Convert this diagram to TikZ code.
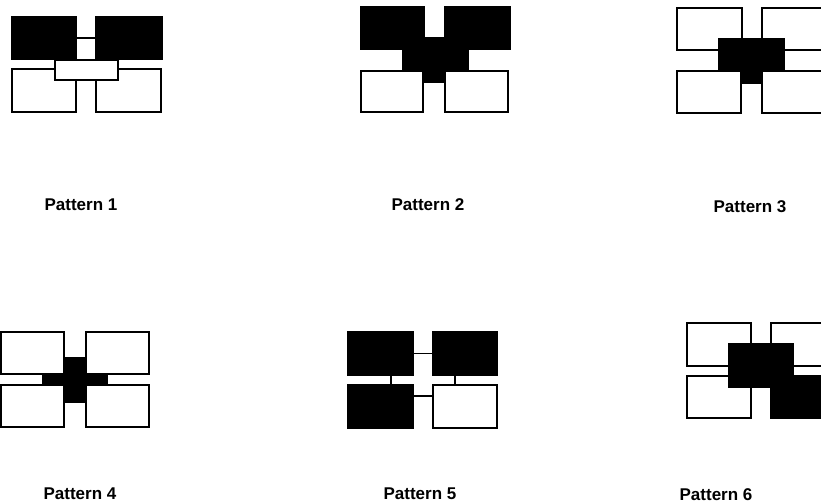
\documentclass[tikz,border=0pt]{standalone}
\usepackage{fontspec}
\setmainfont{Liberation Sans}

\begin{document}
\begin{tikzpicture}[
  x=1pt,
  y=-1pt,
  line cap=rect,
  line join=miter,
  whitebox/.style={
    draw=black,
    fill=white,
    line width=1.6pt,
    inner sep=0pt,
    minimum width=64pt,
    minimum height=43pt
  },
  blackbox/.style={
    whitebox,
    fill=black
  },
  link/.style={
    line width=1.8pt
  },
  caption/.style={
    font=\bfseries\fontsize{17}{20}\selectfont,
    inner sep=1pt
  }
]
  \useasboundingbox (0,0) rectangle (821,503);

  % Узор 1: два тёмных сверху, белая перемычка
  \node[blackbox] (p1tl) at (44,38) {};
  \node[blackbox, minimum width=66pt] (p1tr) at (129,38) {};
  \node[whitebox] (p1bl) at (44,90.5) {};
  \node[whitebox, minimum width=65pt] (p1br) at (128.5,90.5) {};
  \node[whitebox, minimum width=63pt, minimum height=20pt] (p1mid) at (86.5,70) {};

  \draw[link]
    (p1tl) -- (p1tr);

  % Узор 2: тёмная буква T сверху
  \node[blackbox] (p2tl) at (392.5,28) {};
  \node[blackbox, minimum width=65pt] (p2tr) at (477.5,28) {};
  \node[blackbox, minimum width=65pt, minimum height=44pt] (p2mid) at (435.5,60) {};
  \node[whitebox, minimum width=62pt, minimum height=41pt] (p2bl) at (392,91.5) {};
  \node[whitebox, minimum width=63pt, minimum height=41pt] (p2br) at (476.5,91.5) {};

  % Узор 3: тёмный центр под нижними
  \node[whitebox, minimum width=65pt, minimum height=42pt] (p3tl) at (709.5,29) {};
  \node[whitebox, minimum width=65pt, minimum height=42pt] (p3tr) at (794.5,29) {};
  \node[blackbox, minimum width=65pt, minimum height=44pt] (p3mid) at (751.5,61) {};
  \node[whitebox, minimum height=42pt] (p3bl) at (709,92) {};
  \node[whitebox, minimum width=65pt, minimum height=42pt] (p3br) at (794.5,92) {};

  % Узор 4: тёмный крест
  \node[blackbox, minimum height=44pt] (p4mid) at (75,380) {};
  \node[whitebox, minimum width=63pt, minimum height=42pt] (p4tl) at (32.5,353) {};
  \node[whitebox, minimum width=63pt, minimum height=42pt] (p4tr) at (117.5,353) {};
  \node[whitebox, minimum width=63pt, minimum height=42pt] (p4bl) at (32.5,406) {};
  \node[whitebox, minimum width=63pt, minimum height=42pt] (p4br) at (117.5,406) {};

  % Узор 5: три тёмных, связи линиями
  \node[blackbox, minimum width=65pt] (p5tl) at (380.5,353.5) {};
  \node[blackbox] (p5tr) at (465,353.5) {};
  \node[blackbox, minimum width=65pt] (p5bl) at (380.5,406.5) {};
  \node[whitebox] (p5br) at (465,406.5) {};

  \draw[link]
    (p5tl) -- (p5tr);

  \draw[link]
    ([xshift=10.5]p5tl.south) -- ([xshift=10.5]p5bl.north);

  \draw[link]
    ([xshift=-10]p5tr.south) -- ([xshift=-10]p5br.north);

  \draw[link]
    ([yshift=10.5]p5bl.east) -- ([yshift=10.5]p5br.west);

  % Узор 6: тёмная диагональ
  \node[whitebox] (p6tl) at (719,344.5) {};
  \node[whitebox] (p6tr) at (803,344.5) {};
  \node[whitebox, minimum height=42pt] (p6bl) at (719,397) {};
  \node[blackbox] (p6mid) at (761,365.5) {};
  \node[blackbox, minimum height=42pt] (p6br) at (803,397) {};

  % Подписи
  \node[caption] (lab1) at (81,205) {Pattern 1};
  \node[caption] (lab2) at (428,205) {Pattern 2};
  \node[caption] (lab3) at (750,207) {Pattern 3};
  \node[caption] (lab4) at (80,494) {Pattern 4};
  \node[caption] (lab5) at (420,494) {Pattern 5};
  \node[caption] (lab6) at (716,494.5) {Pattern 6};
\end{tikzpicture}
\end{document}
